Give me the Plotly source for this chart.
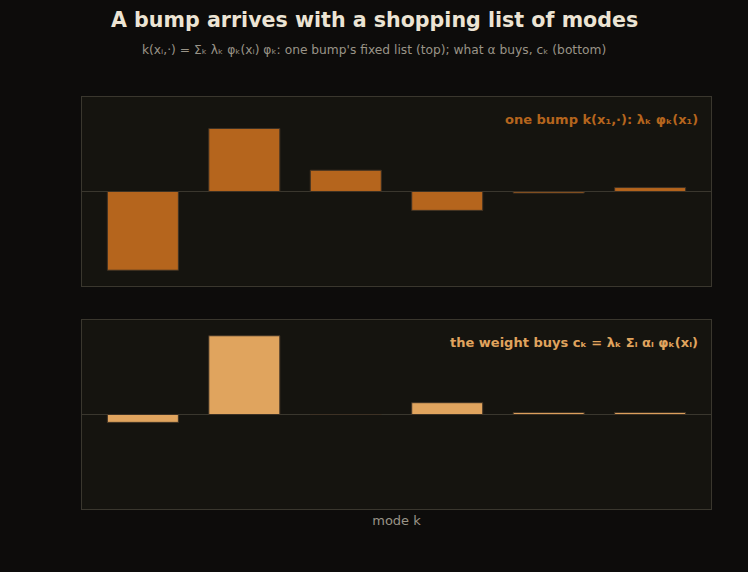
import plotly.graph_objects as go
from plotly.subplots import make_subplots

modes = [0, 1, 2, 3, 4, 5]
bump_list = [-1.0, 0.80, 0.27, -0.24, -0.02, 0.05]
weight_buys = [-0.10, 1.0, 0.0, 0.15, 0.025, 0.025]

title_text = "A bump arrives with a shopping list of modes"
subtitle_text = "k(xᵢ,·) = Σₖ λₖ φₖ(xᵢ) φₖ: one bump's fixed list (top); what α buys, cₖ (bottom)"
top_label = "one bump k(x₁,·): λₖ φₖ(x₁)"
bottom_label = "the weight buys cₖ = λₖ Σᵢ αᵢ φₖ(xᵢ)"

FONT = "DejaVu Sans"
PAPER = "#0d0c0b"
PLOT = "#15140f"
GRID = "#3a372e"

fig = make_subplots(rows=2, cols=1, vertical_spacing=0.0826)

fig.add_trace(go.Bar(x=modes, y=bump_list, width=0.7,
                     marker=dict(color="#b5651d", line=dict(color="#3d3124", width=1)),
                     showlegend=False, hoverinfo="skip"), row=1, col=1)
fig.add_trace(go.Bar(x=modes, y=weight_buys, width=0.7,
                     marker=dict(color="#e0a45e", line=dict(color="#3d3124", width=1)),
                     showlegend=False, hoverinfo="skip"), row=2, col=1)

m1 = max(abs(v) for v in bump_list) * 1.2
m2 = max(abs(v) for v in weight_buys) * 1.2

axis_common = dict(showline=True, linecolor=GRID, linewidth=1, mirror=True,
                   showgrid=False, showticklabels=False, ticks="")
fig.update_xaxes(range=[-0.6, 5.6], zeroline=False, **axis_common)
fig.update_yaxes(zeroline=True, zerolinecolor=GRID, zerolinewidth=1, **axis_common)
fig.update_yaxes(range=[-m1, m1], domain=[0.5413, 1.0], row=1, col=1)
fig.update_yaxes(range=[-m2, m2], domain=[0.0, 0.4587], row=2, col=1)
fig.update_xaxes(title=dict(text="mode k", font=dict(family=FONT, size=13, color="#9a9488"),
                            standoff=6), row=2, col=1)

cx = (374 - 82) / 629
fig.add_annotation(text=f"<b>{title_text}</b>", xref="paper", yref="paper",
                   x=cx, y=1 + (97 - 20) / 412, xanchor="center", yanchor="middle",
                   showarrow=False, font=dict(family=FONT, size=20.6, color="#ece4d4"))
fig.add_annotation(text=subtitle_text, xref="paper", yref="paper",
                   x=cx, y=1 + (97 - 50.5) / 412, xanchor="center", yanchor="middle",
                   showarrow=False, font=dict(family=FONT, size=12.25, color="#9a9488"))
fig.add_annotation(text=f"<b>{top_label}</b>", xref="x domain", yref="y domain",
                   x=(700 - 82) / 629, y=0.882, xanchor="right", yanchor="middle", showarrow=False,
                   font=dict(family=FONT, size=13, color="#b5651d"))
fig.add_annotation(text=f"<b>{bottom_label}</b>", xref="x2 domain", yref="y2 domain",
                   x=(700 - 82) / 629, y=0.882, xanchor="right", yanchor="middle", showarrow=False,
                   font=dict(family=FONT, size=13, color="#e0a45e"))

fig.update_layout(width=748, height=572, paper_bgcolor=PAPER, plot_bgcolor=PLOT,
                  margin=dict(l=82, r=37, t=97, b=63), bargap=0.3,
                  font=dict(family=FONT, color="#9a9488"))

fig.write_html("out.html")
